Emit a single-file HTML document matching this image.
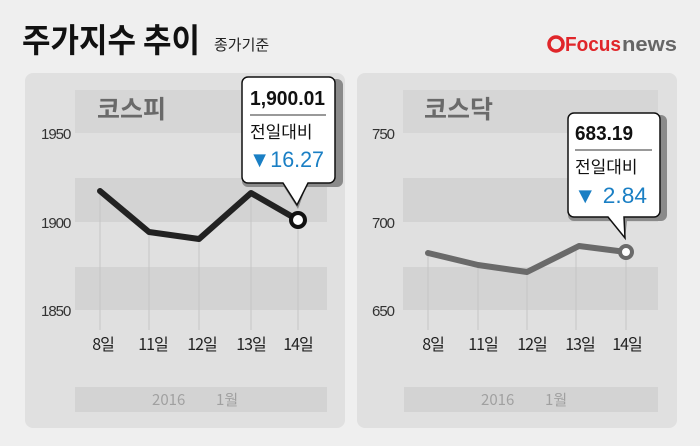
<!DOCTYPE html>
<html><head><meta charset="utf-8"><style>
body{margin:0;background:#efefef;}
svg{display:block;font-family:"Liberation Sans","Noto Sans CJK KR",sans-serif;}
</style></head><body>
<svg width="700" height="446" viewBox="0 0 700 446">
<rect width="700" height="446" fill="#efefef"/>
<text x="22" y="52" font-size="33" font-weight="bold" fill="#111" font-family="'Noto Sans CJK KR',sans-serif" textLength="178" lengthAdjust="spacingAndGlyphs">주가지수 추이</text>
<text x="214" y="50" font-size="15" fill="#222" font-family="'Noto Sans CJK KR',sans-serif">종가기준</text>
<circle cx="556" cy="44" r="7" fill="none" stroke="#e0262a" stroke-width="3.5"/>
<text x="565" y="51" font-size="20" font-weight="bold" fill="#e0262a" textLength="56" lengthAdjust="spacingAndGlyphs">Focus</text>
<text x="622" y="51" font-size="20" font-weight="bold" fill="#666" textLength="55" lengthAdjust="spacingAndGlyphs">news</text>

<!-- left panel -->
<rect x="25" y="73" width="320" height="355" rx="8" fill="#e0e0e0"/>
<rect x="75" y="90" width="252" height="43" fill="#d6d6d6"/>
<rect x="75" y="178" width="252" height="44" fill="#d3d3d3"/>
<rect x="75" y="267" width="252" height="43" fill="#d3d3d3"/>
<rect x="75" y="387" width="252" height="25" fill="#d3d3d3"/>
<text x="97" y="118" font-size="25" font-weight="bold" fill="#6a6a6a" font-family="'Noto Sans CJK KR',sans-serif">코스피</text>
<g font-size="15" fill="#333" letter-spacing="-1">
<text x="41" y="139">1950</text><text x="41" y="228">1900</text><text x="41" y="316">1850</text>
</g>
<g stroke="#c6c6c6" stroke-width="1">
<line x1="100" y1="191" x2="100" y2="330"/><line x1="149" y1="232" x2="149" y2="330"/><line x1="199" y1="239" x2="199" y2="330"/><line x1="251" y1="193" x2="251" y2="330"/><line x1="298" y1="220" x2="298" y2="330"/>
</g>
<g font-size="16" fill="#222" text-anchor="middle" font-family="'Noto Sans CJK KR',sans-serif" letter-spacing="-1">
<text x="103" y="350">8일</text><text x="153" y="350">11일</text><text x="202" y="350">12일</text><text x="251" y="350">13일</text><text x="298" y="350">14일</text>
</g>
<g font-size="15" fill="#a0a0a0" font-family="'Noto Sans CJK KR',sans-serif"><text x="152" y="405">2016</text><text x="216" y="405">1월</text></g>
<polyline points="100,191 149,232 199,239 251,193 298,220" fill="none" stroke="#222" stroke-width="6" stroke-linejoin="round" stroke-linecap="round"/>
<circle cx="298" cy="220" r="7" fill="#fff" stroke="#111" stroke-width="4"/>
<path d="M248,79 h89 a6,6 0 0 1 6,6 v96 a6,6 0 0 1 -6,6 h-31 l-8,22 l-14,-22 h-36 a6,6 0 0 1 -6,-6 v-96 a6,6 0 0 1 6,-6z" fill="#8a8a8a"/>
<path d="M248,77 h81 a6,6 0 0 1 6,6 v94 a6,6 0 0 1 -6,6 h-21 l-11,22 l-14,-22 h-35 a6,6 0 0 1 -6,-6 v-94 a6,6 0 0 1 6,-6z" fill="#fff" stroke="#111" stroke-width="1.5"/>
<text x="250" y="105" font-size="20" fill="#111" textLength="75" lengthAdjust="spacingAndGlyphs" style="font-weight:600">1,900.01</text>
<line x1="250" y1="115" x2="326" y2="115" stroke="#333"/>
<text x="250" y="138" font-size="17" fill="#111" font-family="'Noto Sans CJK KR',sans-serif">전일대비</text>
<text x="249" y="167" font-size="22" fill="#1a7fc4" textLength="75" lengthAdjust="spacingAndGlyphs">▼16.27</text>

<!-- right panel -->
<rect x="357" y="73" width="320" height="355" rx="8" fill="#e0e0e0"/>
<rect x="403" y="90" width="255" height="43" fill="#d6d6d6"/>
<rect x="403" y="178" width="255" height="44" fill="#d3d3d3"/>
<rect x="403" y="267" width="255" height="43" fill="#d3d3d3"/>
<rect x="404" y="387" width="254" height="25" fill="#d3d3d3"/>
<text x="424" y="118" font-size="25" font-weight="bold" fill="#6a6a6a" font-family="'Noto Sans CJK KR',sans-serif">코스닥</text>
<g font-size="15" fill="#333" letter-spacing="-1">
<text x="372" y="139">750</text><text x="372" y="228">700</text><text x="372" y="316">650</text>
</g>
<g stroke="#c6c6c6" stroke-width="1">
<line x1="428" y1="253" x2="428" y2="330"/><line x1="478" y1="265" x2="478" y2="330"/><line x1="527" y1="272" x2="527" y2="330"/><line x1="576" y1="246" x2="576" y2="330"/><line x1="626" y1="252" x2="626" y2="330"/>
</g>
<g font-size="16" fill="#222" text-anchor="middle" font-family="'Noto Sans CJK KR',sans-serif" letter-spacing="-1">
<text x="433" y="350">8일</text><text x="483" y="350">11일</text><text x="532" y="350">12일</text><text x="580" y="350">13일</text><text x="627" y="350">14일</text>
</g>
<g font-size="15" fill="#a0a0a0" font-family="'Noto Sans CJK KR',sans-serif"><text x="481" y="405">2016</text><text x="545" y="405">1월</text></g>
<polyline points="428,253 478,265 527,272 579,246 626,252" fill="none" stroke="#6a6a6a" stroke-width="6" stroke-linejoin="round" stroke-linecap="round"/>
<circle cx="626" cy="252" r="6" fill="#fff" stroke="#6a6a6a" stroke-width="4"/>
<path d="M574,115 h87 a6,6 0 0 1 6,6 v94 a6,6 0 0 1 -6,6 h-34 l-2,18 l-12,-18 h-39 a6,6 0 0 1 -6,-6 v-94 a6,6 0 0 1 6,-6z" fill="#8a8a8a"/>
<path d="M574,113 h80 a6,6 0 0 1 6,6 v92 a6,6 0 0 1 -6,6 h-30 l1,21 l-17,-21 h-34 a6,6 0 0 1 -6,-6 v-92 a6,6 0 0 1 6,-6z" fill="#fff" stroke="#111" stroke-width="1.5"/>
<text x="575" y="140" font-size="20" fill="#111" textLength="58" lengthAdjust="spacingAndGlyphs" style="font-weight:600">683.19</text>
<line x1="575" y1="150" x2="652" y2="150" stroke="#333"/>
<text x="575" y="173" font-size="17" fill="#111" font-family="'Noto Sans CJK KR',sans-serif">전일대비</text>
<text x="574" y="203" font-size="22" fill="#1a7fc4" textLength="73" lengthAdjust="spacingAndGlyphs">▼ 2.84</text>
</svg>
</body></html>
